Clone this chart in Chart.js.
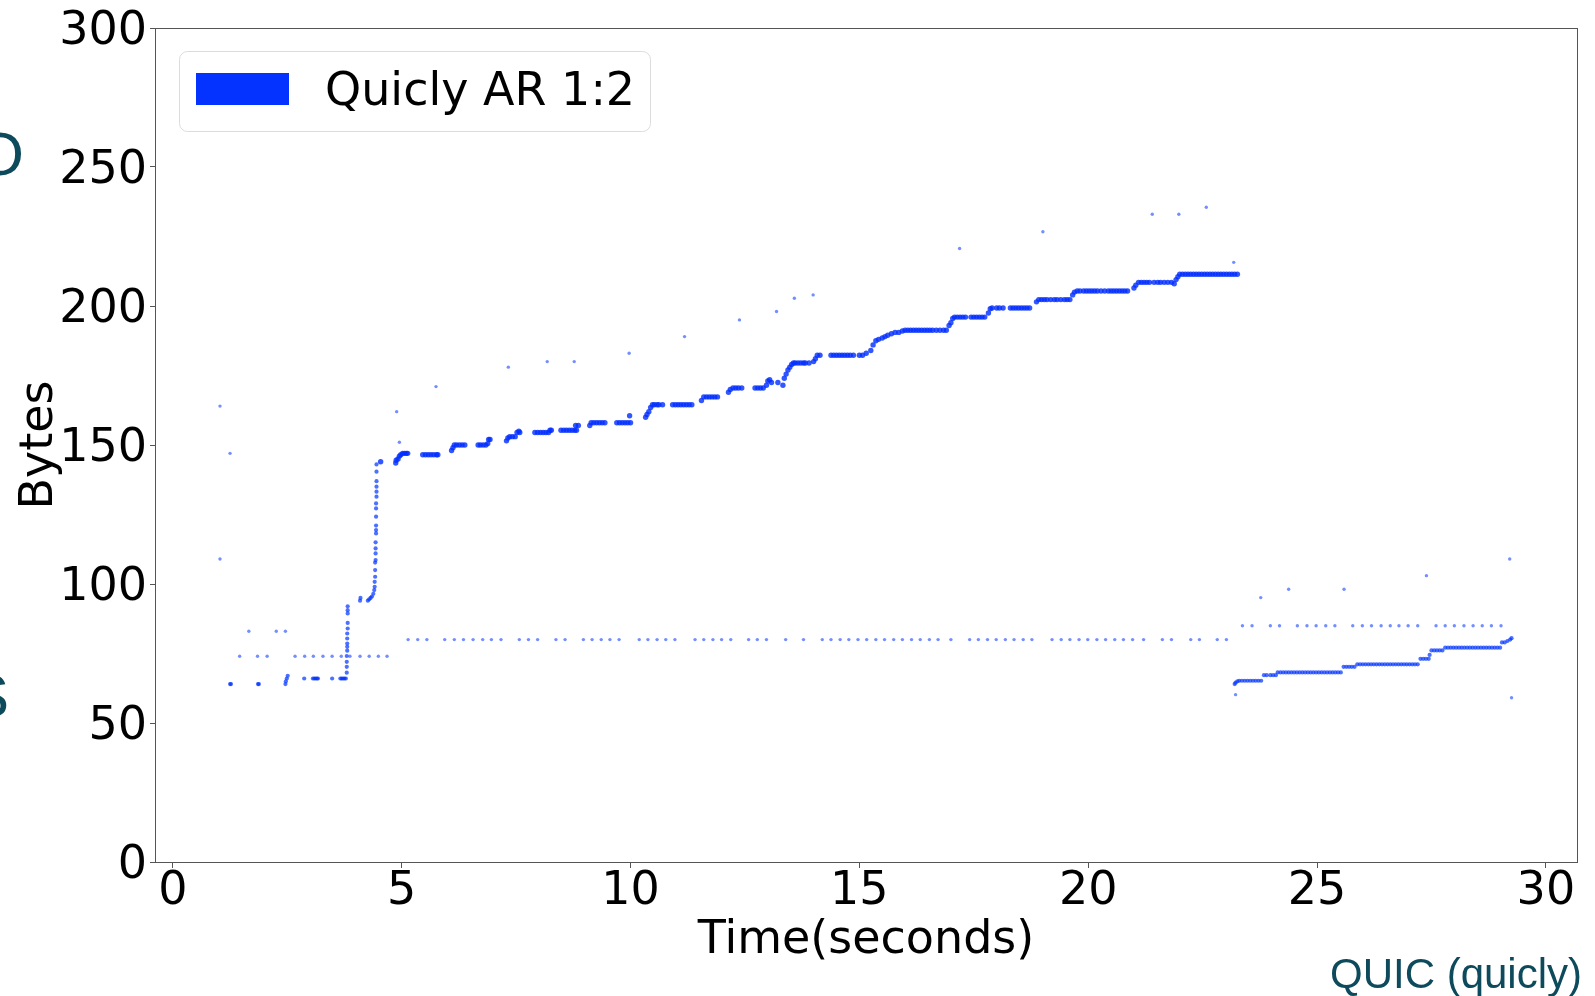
<!DOCTYPE html>
<html>
<head>
<meta charset="utf-8">
<script src="https://cdn.jsdelivr.net/npm/chart.js@4.4.1/dist/chart.umd.min.js"></script>
<style>
  html, body { margin: 0; padding: 0; background: #fff; }
  #wrap { width: 1595px; height: 996px; position: relative; }
</style>
</head>
<body>
<div id="wrap"><canvas id="cwnd"></canvas></div>
<script>
// flat runs of the cwnd trace: [bytes, [times...]]
const upperLevels = [
    [146.5, [5.46, 5.52, 5.58, 5.64, 5.70, 5.76, 5.79]],
    [150, [6.15, 6.2, 6.26, 6.32, 6.38, 6.67, 6.72, 6.78, 6.84]],
    [153, [7.36, 7.42, 7.48]],
    [154.5, [7.91, 7.97, 8.03, 8.09, 8.15, 8.21]],
    [155.3, [8.24, 8.27, 8.48, 8.54, 8.60, 8.66, 8.72, 8.78, 8.82]],
    [158, [9.14, 9.2, 9.26, 9.32, 9.38, 9.44, 9.7, 9.76, 9.82, 9.88, 9.94, 10.0]],
    [164.5, [10.48, 10.52, 10.58, 10.62, 10.7, 10.92, 10.98, 11.04, 11.1, 11.16, 11.22, 11.28, 11.34]],
    [167.3, [11.6, 11.66, 11.72, 11.78, 11.84, 11.9]],
    [170.5, [12.24, 12.3, 12.36, 12.43, 12.72, 12.78, 12.84, 12.9]],
    [179.5, [13.56, 13.6, 13.66, 13.72, 13.78, 13.82, 13.9]],
    [182.3, [14.08, 14.14, 14.38, 14.44, 14.5, 14.56, 14.62, 14.68, 14.74, 14.8, 14.87, 15.0, 15.07]],
    [191.3, [16.0, 16.06, 16.12, 16.18, 16.24, 16.3, 16.36, 16.42, 16.48, 16.54, 16.6, 16.68, 16.76, 16.84, 16.9]],
    [196, [17.08, 17.14, 17.2, 17.26, 17.32, 17.44, 17.5, 17.56, 17.62, 17.68, 17.74]],
    [199.3, [17.9, 18.0, 18.06, 18.14, 18.3, 18.36, 18.42, 18.48, 18.54, 18.6, 18.66, 18.72]],
    [202.3, [18.92, 18.98, 19.04, 19.1, 19.18, 19.26, 19.32, 19.4, 19.48, 19.54, 19.6]],
    [205.4, [19.76, 19.82, 19.9, 19.96, 20.02, 20.08, 20.14, 20.2, 20.28, 20.36, 20.44, 20.5, 20.56, 20.62, 20.68, 20.74, 20.8, 20.86]],
    [208.5, [21.1, 21.16, 21.22, 21.28, 21.34, 21.44, 21.52, 21.58, 21.66, 21.74, 21.82]],
    [211.4, [22.0, 22.06, 22.12, 22.18, 22.24, 22.3, 22.36, 22.42, 22.48, 22.54, 22.6, 22.66, 22.72, 22.78, 22.84, 22.9, 22.96, 23.02, 23.08, 23.14, 23.2, 23.26]]
];

const lowerLevels = [
    [64, [1.25, 1.27, 1.86, 1.88, 2.46]],
    [66, [2.87, 3.06, 3.09, 3.12, 3.15, 3.17, 3.48, 3.66, 3.69, 3.72, 3.75, 3.78]],
    [65.2, [23.3, 23.36, 23.42, 23.48, 23.54, 23.6, 23.66, 23.72, 23.78]],
    [67.2, [23.84, 23.9, 23.98, 24.04, 24.1]],
    [68.2, [24.14, 24.2, 24.26, 24.32, 24.38, 24.44, 24.5, 24.56, 24.62, 24.68, 24.74, 24.8, 24.86, 24.92, 24.98, 25.04, 25.1, 25.16, 25.22, 25.28, 25.34, 25.4, 25.46, 25.52]],
    [70.2, [25.58, 25.64, 25.7, 25.76, 25.82]],
    [71.1, [25.88, 25.94, 26.0, 26.06, 26.12, 26.18, 26.24, 26.3, 26.36, 26.42, 26.48, 26.54, 26.6, 26.66, 26.72, 26.78, 26.84, 26.9, 26.96, 27.02, 27.08, 27.14, 27.2]],
    [73.1, [27.26, 27.32, 27.38, 27.44]],
    [76.1, [27.5, 27.56, 27.62, 27.68, 27.74]],
    [77.1, [27.8, 27.86, 27.92, 27.98, 28.04, 28.1, 28.16, 28.22, 28.28, 28.34, 28.4, 28.46, 28.52, 28.58, 28.64, 28.7, 28.76, 28.82, 28.88, 28.94, 29.0]]
];

// jumps between the runs: [time, bytes]
const stepRamps = [
    [2.47, 65], [2.49, 66], [2.51, 67],
    [3.80, 68.1], [3.80, 70.2], [3.80, 72], [3.80, 74.1], [3.81, 76], [3.81, 77.4], [3.81, 78.6], [3.81, 80.4],
    [3.81, 82.2], [3.82, 84], [3.82, 86], [3.82, 89.4], [3.82, 90.6], [3.82, 92],
    [4.09, 94], [4.1, 95], [4.26, 94], [4.29, 94.5], [4.32, 95], [4.35, 95.5], [4.38, 96.5],
    [4.40, 97.8], [4.41, 99], [4.41, 100.8], [4.42, 102.6], [4.42, 105], [4.42, 107.7], [4.43, 108.6], [4.43, 111],
    [4.43, 112.8], [4.43, 115], [4.44, 118.2], [4.44, 119.4], [4.44, 121], [4.44, 124.2], [4.44, 127.2], [4.44, 129],
    [4.45, 131.4], [4.45, 133.2], [4.45, 135], [4.45, 137], [4.45, 140.4], [4.45, 143], [4.54, 144],
    [4.87, 143.5], [4.88, 144.5], [4.92, 145], [4.95, 146], [4.98, 146.5], [5.02, 147], [5.06, 147], [5.1, 147], [5.13, 147],
    [6.09, 148], [6.12, 149],
    [6.88, 150.5], [6.9, 152], [6.93, 152],
    [7.29, 151.5], [7.32, 152.5], [7.52, 154.5], [7.56, 155], [7.58, 154.5],
    [8.8, 157], [8.86, 157], [9.11, 157],
    [9.98, 160.5], [10.33, 160], [10.36, 161], [10.4, 162], [10.44, 163.5],
    [11.55, 166], [12.14, 169], [12.18, 170],
    [12.97, 171.5], [13.0, 173], [13.04, 173.5], [13.08, 172.5], [13.22, 172.5],
    [13.33, 171.5], [13.36, 174], [13.4, 175.5], [13.44, 177], [13.48, 178], [13.52, 179],
    [14.0, 180], [14.04, 181],
    [15.15, 183], [15.25, 184], [15.3, 186], [15.36, 187.5], [15.42, 188], [15.5, 188.5], [15.56, 189],
    [15.62, 189.5], [15.7, 190], [15.78, 190.5], [15.86, 190.5], [15.94, 191],
    [16.96, 193], [17.0, 194], [17.04, 195.5],
    [17.82, 197.5], [17.86, 199],
    [18.87, 201.5],
    [19.66, 204], [19.7, 205],
    [21.0, 206.5], [21.04, 207.5],
    [21.88, 208], [21.92, 209.5], [21.96, 210.5],
    [23.2, 64], [23.22, 64.5], [23.26, 65],
    [27.46, 74.5],
    [29.04, 79], [29.1, 79], [29.16, 79.5], [29.22, 80], [29.25, 80.5]
];

// sparse horizontal rows of samples: [bytes, [times...]]
const sideRows = [
    [74, [1.46, 1.85, 2.06, 2.67, 2.88, 3.07, 3.28, 3.48, 3.68, 3.87, 4.09, 4.29, 4.49, 4.68]],
    [83, [1.66, 2.26, 2.46]],
    [80, [5.14, 5.35, 5.55, 5.94, 6.15, 6.35, 6.56, 6.77, 6.96, 7.17, 7.57, 7.77, 7.97, 8.37, 8.57, 8.97, 9.16,
          9.36, 9.55, 9.75, 10.19, 10.38, 10.58, 10.77, 10.97, 11.41, 11.6, 11.8, 11.99, 12.19, 12.58, 12.77,
          12.97, 13.39, 13.78, 14.19, 14.38, 14.58, 14.77, 14.97, 15.16, 15.36, 15.55, 15.75, 15.94, 16.14,
          16.33, 16.53, 16.72, 17.0, 17.41, 17.6, 17.8, 17.99, 18.19, 18.38, 18.58, 18.77, 19.21, 19.41, 19.6,
          19.8, 19.99, 20.19, 20.38, 20.58, 20.77, 20.97, 21.21, 21.62, 21.82, 22.24, 22.43, 22.82, 23.02]],
    [85, [23.37, 23.58, 23.98, 24.18, 24.57, 24.78, 24.98, 25.19, 25.39, 25.78, 25.99, 26.19, 26.4, 26.6,
          26.79, 26.99, 27.2, 27.6, 27.8, 28.0, 28.21, 28.41, 28.61, 28.81, 29.02]]
];

// single stray samples: [time, bytes]
const outliers = [
    [1.03, 164], [1.25, 147], [1.03, 109], [4.89, 162], [4.95, 151], [5.75, 171], [7.33, 178], [8.18, 180],
    [8.77, 180], [9.97, 183], [11.18, 189], [12.38, 195], [13.19, 198], [13.58, 202.8], [13.99, 204],
    [17.19, 220.7], [19.01, 226.7], [21.4, 233], [21.98, 233], [22.58, 235.5], [23.18, 215.7], [23.22, 60.2],
    [23.77, 95.1], [24.38, 98.1], [25.59, 98.1], [27.39, 103], [29.21, 109], [29.25, 59.1]
];

const xTicks = [0, 5, 10, 15, 20, 25, 30];
const yTicks = [0, 50, 100, 150, 200, 250, 300];
const seriesLabel = 'Quicly AR 1:2';

// size tag: 2 = thick main trace, 1 = lower trace / ramps, 0 = sparse samples
const points = [];
upperLevels.forEach(([b, ts]) => ts.forEach(t => points.push({ x: t, y: b, size: 2 })));
lowerLevels.forEach(([b, ts]) => ts.forEach(t => points.push({ x: t, y: b, size: 1 })));
stepRamps.forEach(([t, b]) => points.push({ x: t, y: b, size: b > 143 ? 2 : 1 }));
sideRows.forEach(([b, ts]) => ts.forEach(t => points.push({ x: t, y: b, size: 0 })));
outliers.forEach(([t, b]) => points.push({ x: t, y: b, size: 0 }));

const FONT = 'DejaVu Sans';

const framePlugin = {
    id: 'frame',
    afterDraw(chart) {
        const { ctx, chartArea: a } = chart;
        ctx.save();
        ctx.strokeStyle = '#555';
        ctx.lineWidth = 1;
        ctx.strokeRect(a.left + 0.5, a.top + 0.5, a.right - a.left, a.bottom - a.top);

        // legend box
        ctx.beginPath();
        ctx.roundRect(179.5, 51.5, 471, 80, 8);
        ctx.fillStyle = 'rgba(255,255,255,0.85)';
        ctx.fill();
        ctx.strokeStyle = '#dcdcdc';
        ctx.stroke();
        ctx.fillStyle = '#0433ff';
        ctx.fillRect(196, 73, 93, 32);
        ctx.fillStyle = '#000';
        ctx.font = '46px "' + FONT + '"';
        ctx.textBaseline = 'middle';
        ctx.fillText(chart.data.datasets[0].label, 325, 93);

        // slide leftovers around the figure
        ctx.fillStyle = '#0d4a5c';
        ctx.font = '62px "Liberation Sans"';
        ctx.textAlign = 'right';
        ctx.textBaseline = 'alphabetic';
        ctx.fillText('O', 24, 175);
        ctx.fillText('S', 9, 717);
        ctx.font = '42px "Liberation Sans"';
        ctx.fillText('QUIC (quicly)', 1582, 988);
        ctx.restore();
    }
};

new Chart(document.getElementById('cwnd'), {
    type: 'scatter',
    data: {
        datasets: [{
            label: seriesLabel,
            data: points,
            backgroundColor: c => ['rgba(0, 51, 255, 0.55)', 'rgba(0, 51, 255, 0.7)', 'rgba(0, 45, 255, 0.8)'][c.raw ? c.raw.size : 2],
            borderWidth: 0,
            pointRadius: c => [1.7, 2.1, 2.7][c.raw ? c.raw.size : 2]
        }]
    },
    options: {
        responsive: true,
        maintainAspectRatio: false,
        animation: false,
        devicePixelRatio: 1,
        layout: { padding: { top: 28, right: 18, left: 0, bottom: 0 } },
        plugins: {
            legend: { display: false },
            tooltip: { enabled: false }
        },
        scales: {
            x: {
                type: 'linear',
                min: -0.39,
                max: 30.68,
                afterBuildTicks: s => { s.ticks = xTicks.map(v => ({ value: v })); },
                afterFit: s => { s.height = 134; s.paddingLeft = 0; s.paddingRight = 0; },
                ticks: { color: '#000', font: { family: FONT, size: 46 }, padding: -4, maxRotation: 0, autoSkip: false },
                grid: { drawOnChartArea: false, drawTicks: true, tickLength: 6, color: '#555' },
                border: { color: '#555' },
                title: {
                    display: true,
                    text: 'Time(seconds)',
                    color: '#000',
                    font: { family: FONT, size: 46 },
                    padding: { top: 0, bottom: 27 }
                }
            },
            y: {
                min: 0,
                max: 300,
                afterBuildTicks: s => { s.ticks = yTicks.map(v => ({ value: v })); },
                afterFit: s => { s.width = 155; s.paddingTop = 0; s.paddingBottom = 0; },
                ticks: { color: '#000', font: { family: FONT, size: 46 }, padding: 3, labelOffset: 4 },
                grid: { drawOnChartArea: false, drawTicks: true, tickLength: 5, color: '#555' },
                border: { color: '#555' },
                title: {
                    display: true,
                    text: 'Bytes',
                    color: '#000',
                    font: { family: FONT, size: 46 },
                    padding: { top: 12, bottom: 0 }
                }
            }
        }
    },
    plugins: [framePlugin]
});
</script>
</body>
</html>
